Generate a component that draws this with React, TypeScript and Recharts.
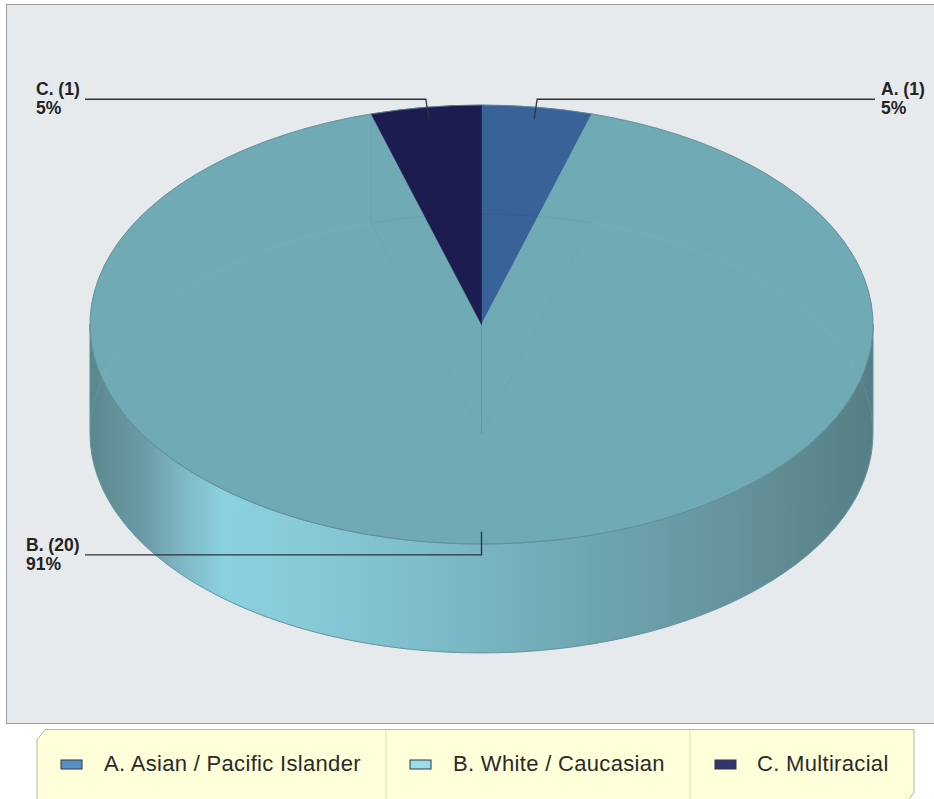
import { PieChart, Pie, Legend } from "recharts"

const shortNames = ["A.", "B.", "C."]
const legendNames = ["A. Asian / Pacific Islander", "B. White / Caucasian", "C. Multiracial"]
const counts = [1, 20, 1]
const sliceColors = ["#396298", "#70AAB5", "#1C1C50"]
const swatchColors = ["#5A8FC6", "#9ADCE8", "#34346F"]

const chartData = legendNames.map((name, i) => ({
  name,
  short: shortNames[i],
  value: counts[i],
  fill: sliceColors[i],
}))

const WIDTH = 934
const HEIGHT = 799
const CX = 481.5
const CY = 324.5
const RX = 391.5
const SQUASH = 0.5605 // top face is a flattened circle
const DEPTH = 109

// ellipse point for a recharts angle (degrees, counter-clockwise from 3 o'clock)
const pt = (cx: number, cy: number, r: number, deg: number) => {
  const a = (deg * Math.PI) / 180
  return [cx + r * Math.cos(a), cy - r * SQUASH * Math.sin(a)]
}

const arc = (cx: number, cy: number, r: number, from: number, to: number) => {
  const [x, y] = pt(cx, cy, r, to)
  const large = Math.abs(from - to) > 180 ? 1 : 0
  const sweep = from > to ? 1 : 0
  return `A${r} ${r * SQUASH} 0 ${large} ${sweep} ${x} ${y}`
}

const SliceShape = (props: any) => {
  const { cx, cy, outerRadius: r, startAngle, endAngle, fill } = props
  const [sx, sy] = pt(cx, cy, r, startAngle)
  const top = `M${cx} ${cy}L${sx} ${sy}${arc(cx, cy, r, startAngle, endAngle)}Z`

  // only the part of the slice facing the viewer has a wall
  const hi = Math.min(startAngle, 0)
  const lo = Math.max(endAngle, -180)
  let wall = null
  if (hi > lo) {
    const [ax, ay] = pt(cx, cy, r, hi)
    const [bx, by] = pt(cx, cy, r, lo)
    const d =
      `M${ax} ${ay}${arc(cx, cy, r, hi, lo)}L${bx} ${by + DEPTH}` +
      `${arc(cx, cy + DEPTH, r, lo, hi)}L${ax} ${ay}Z`
    wall = <path d={d} fill="url(#wallShade)" stroke="#5E8E98" strokeWidth={1} />
  }

  return (
    <g>
      {wall}
      <path d={top} fill={fill} stroke={fill} strokeWidth={0.6} />
      <path d={`M${sx} ${sy}${arc(cx, cy, r, startAngle, endAngle)}`} fill="none" stroke="#5A8A94" strokeOpacity={0.8} strokeWidth={1} />
    </g>
  )
}

// faint underside showing through the top face
const GhostShape = (props: any) => {
  const { cx, cy, outerRadius: r, startAngle, endAngle, index } = props
  const [sx, sy] = pt(cx, cy, r, startAngle)
  const [ex, ey] = pt(cx, cy, r, endAngle)
  const d =
    `M${cx} ${cy}L${sx} ${sy}${arc(cx, cy, r, startAngle, endAngle)}Z` +
    `M${sx} ${sy}L${sx} ${sy - DEPTH}M${ex} ${ey}L${ex} ${ey - DEPTH}`
  if (index === 1) {
    return <path d={d} fill="none" stroke="#8CC6D2" strokeOpacity={0.15} strokeWidth={1} />
  }
  return <path d={d} fill="none" stroke="#0F0F30" strokeOpacity={0.05} strokeWidth={1} />
}

const labelLayouts = [
  { textX: 881, endX: 875, rise: -20, lean: 3 },
  { textX: 26, endX: 85, rise: 23, lean: 0 },
  { textX: 36, endX: 85, rise: -20, lean: -3 },
]

const renderLabel = (props: any) => {
  const { cx, cy, outerRadius, midAngle, percent, index, payload } = props
  const box = labelLayouts[index]
  const [x, y] = pt(cx, cy, outerRadius * 0.945, midAngle)
  const elbowX = x + box.lean
  const elbowY = y + box.rise
  const row = payload?.payload ?? payload
  return (
    <g key={`label-${index}`}>
      <polyline
        points={`${x},${y} ${elbowX},${elbowY} ${box.endX},${elbowY}`}
        fill="none"
        stroke="#2E3338"
        strokeWidth={1.3}
      />
      <text x={box.textX} y={elbowY - 4} fontFamily="Liberation Sans" fontSize={17.5} fontWeight="bold" fill="#222">
        {`${row.short} (${row.value})`}
      </text>
      <text x={box.textX} y={elbowY + 15} fontFamily="Liberation Sans" fontSize={17.5} fontWeight="bold" fill="#222">
        {`${Math.round(percent * 100)}%`}
      </text>
    </g>
  )
}

const swatchX = [61, 410, 715]
const legendTextX = [104, 453, 757]
const dividerX = [386, 690]

const LegendBar = () => (
  <svg width={WIDTH} height={70} style={{ display: "block" }}>
    <path d="M45 0.5H914V63L908 72H37V11Z" fill="#FFFFD9" stroke="#B5B5A8" strokeWidth={1} />
    {dividerX.map((x) => (
      <line key={x} x1={x} x2={x} y1={1} y2={70} stroke="#DEDEC6" />
    ))}
    {legendNames.map((name, i) => (
      <g key={name}>
        <rect x={swatchX[i]} y={31} width={21} height={9} fill={swatchColors[i]} stroke="#2B3A4A" strokeWidth={1} />
        <text x={legendTextX[i]} y={42} fontFamily="Liberation Sans" fontSize={22} letterSpacing={0.32} fill="#2A2A2A">
          {name}
        </text>
      </g>
    ))}
  </svg>
)

export default function App() {
  return (
    <div style={{ position: "absolute", left: 0, top: 0, width: WIDTH, height: HEIGHT, overflow: "hidden", background: "#fff" }}>
      <div
        style={{
          position: "absolute",
          left: 6,
          top: 4,
          width: WIDTH,
          height: 720,
          boxSizing: "border-box",
          background: "#E7EAED",
          border: "1px solid #999",
        }}
      />
      <div style={{ position: "absolute", left: 0, top: 0 }}>
        <PieChart width={WIDTH} height={HEIGHT} margin={{ top: 0, right: 0, bottom: 0, left: 0 }}>
          <defs>
            <linearGradient id="wallShade" x1="0" y1="0" x2="1" y2="0">
              <stop offset="0" stopColor="#5B878F" />
              <stop offset="0.07" stopColor="#6B9CA6" />
              <stop offset="0.12" stopColor="#7FB9C6" />
              <stop offset="0.17" stopColor="#8AD0DE" />
              <stop offset="0.25" stopColor="#88CCDA" />
              <stop offset="0.4" stopColor="#7FBFCD" />
              <stop offset="0.5" stopColor="#79B4C2" />
              <stop offset="0.65" stopColor="#6DA5AF" />
              <stop offset="0.8" stopColor="#67959E" />
              <stop offset="1" stopColor="#567F85" />
            </linearGradient>
          </defs>
          <Pie
            data={chartData}
            dataKey="value"
            nameKey="name"
            cx={CX}
            cy={CY}
            outerRadius={RX}
            startAngle={90}
            endAngle={-270}
            stroke="none"
            shape={SliceShape}
            labelLine={false}
            label={renderLabel}
            isAnimationActive={false}
          />
          <Pie
            data={chartData}
            dataKey="value"
            cx={CX}
            cy={CY + DEPTH}
            outerRadius={RX}
            startAngle={90}
            endAngle={-270}
            legendType="none"
            shape={GhostShape}
            labelLine={false}
            isAnimationActive={false}
          />
          <Legend
            content={<LegendBar />}
            wrapperStyle={{ position: "absolute", left: 0, top: 729, width: WIDTH, height: 70, bottom: "auto" }}
          />
        </PieChart>
      </div>
    </div>
  )
}
